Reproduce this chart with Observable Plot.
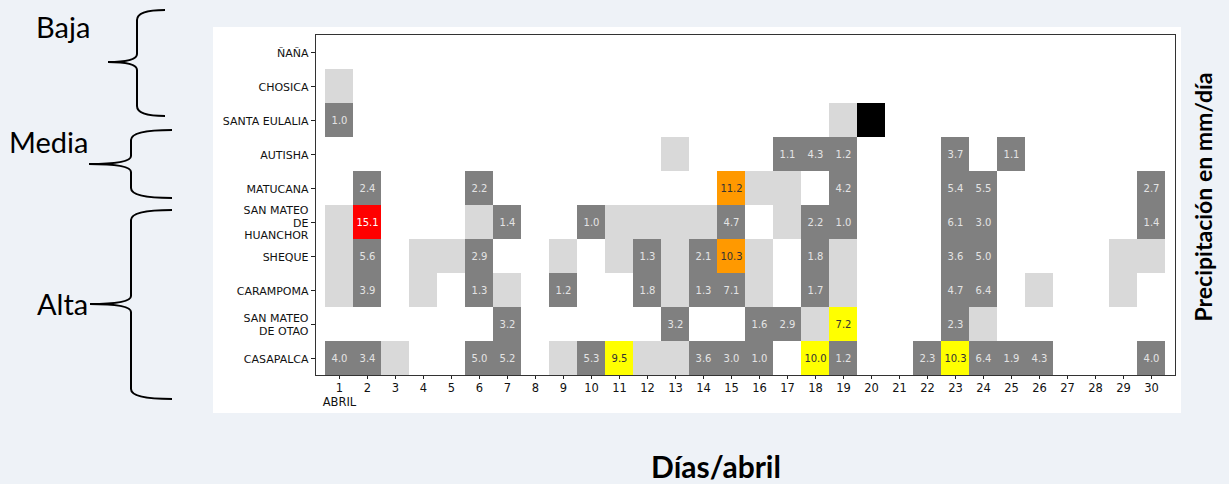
<!DOCTYPE html>
<html>
<head>
<meta charset="utf-8">
<script src="https://cdn.jsdelivr.net/npm/d3@7"></script>
<script src="https://cdn.jsdelivr.net/npm/@observablehq/plot@0.6"></script>
<style>
  html, body { margin: 0; padding: 0; background: #eef2f7; }
  #wrap { position: relative; width: 1229px; height: 484px; overflow: hidden; }
  #paper { position: absolute; left: 213px; top: 27px; width: 968px; height: 386px; background: #fff; }
  #chart { position: absolute; left: 0; top: 0; }
  #deco { position: absolute; left: 0; top: 0; }
  #xtitle { position: absolute; left: 0; width: 1432px; top: 448px; text-align: center;
            font-family: Lato, "Open Sans", sans-serif; font-weight: 700; font-size: 30px; color: #000; }
  #ytitle { position: absolute; left: 1203px; top: 197px; transform: translate(-50%, -50%) rotate(-90deg);
            white-space: nowrap; font-family: Lato, "Open Sans", sans-serif; font-weight: 700; font-size: 23px; color: #000; }
</style>
</head>
<body>
<div id="wrap">
  <div id="paper"></div>
  <div id="chart"></div>
  <svg id="deco" width="1229" height="484"></svg>
  <div id="xtitle">Días/abril</div>
  <div id="ytitle">Precipitación en mm/día</div>
</div>
<script>
// ---- data ----
const stations = ["ÑAÑA", "CHOSICA", "SANTA EULALIA", "AUTISHA", "MATUCANA",
  "SAN MATEO DE HUANCHOR", "SHEQUE", "CARAMPOMA", "SAN MATEO DE OTAO", "CASAPALCA"];
const stationLabels = ["ÑAÑA", "CHOSICA", "SANTA EULALIA", "AUTISHA", "MATUCANA",
  "SAN MATEO\nDE\nHUANCHOR", "SHEQUE", "CARAMPOMA", "SAN MATEO\nDE OTAO", "CASAPALCA"];
const days = [1,2,3,4,5,6,7,8,9,10,11,12,13,14,15,16,17,18,19,20,21,22,23,24,25,26,27,28,29,30];

// daily precipitation (mm/día); 0 = sin lluvia, 0.5 = traza (<1 mm), null = sin dato
const rainNana =        [0,0,0,0,0,0,0,0,0,0, 0,0,0,0,0,0,0,0,0,0, 0,0,0,0,0,0,0,0,0,0];
const rainChosica =     [0.5,0,0,0,0,0,0,0,0,0, 0,0,0,0,0,0,0,0,0,0, 0,0,0,0,0,0,0,0,0,0];
const rainSantaEulalia =[1.0,0,0,0,0,0,0,0,0,0, 0,0,0,0,0,0,0,0,0.5,null, 0,0,0,0,0,0,0,0,0,0];
const rainAutisha =     [0,0,0,0,0,0,0,0,0,0, 0,0,0.5,0,0,0,1.1,4.3,1.2,0, 0,0,3.7,0,1.1,0,0,0,0,0];
const rainMatucana =    [0,2.4,0,0,0,2.2,0,0,0,0, 0,0,0,0,11.2,0.5,0.5,0,4.2,0, 0,0,5.4,5.5,0,0,0,0,0,2.7];
const rainHuanchor =    [0.5,15.1,0,0,0,0.5,1.4,0,0,1.0, 0.5,0.5,0.5,0.5,4.7,0,0.5,2.2,1.0,0, 0,0,6.1,3.0,0,0,0,0,0,1.4];
const rainSheque =      [0.5,5.6,0,0.5,0.5,2.9,0,0,0.5,0, 0.5,1.3,0.5,2.1,10.3,0.5,0,1.8,0.5,0, 0,0,3.6,5.0,0,0,0,0,0.5,0.5];
const rainCarampoma =   [0.5,3.9,0,0.5,0,1.3,0.5,0,1.2,0, 0,1.8,0.5,1.3,7.1,0.5,0,1.7,0.5,0, 0,0,4.7,6.4,0,0.5,0,0,0.5,0];
const rainOtao =        [0,0,0,0,0,0,3.2,0,0,0, 0,0,3.2,0,0,1.6,2.9,0.5,7.2,0, 0,0,2.3,0.5,0,0,0,0,0,0];
const rainCasapalca =   [4.0,3.4,0.5,0,0,5.0,5.2,0,0.5,5.3, 9.5,0.5,0.5,3.6,3.0,1.0,0,10.0,1.2,0, 0,2.3,10.3,6.4,1.9,4.3,0,0,0,4.0];
const rainSeries = [rainNana, rainChosica, rainSantaEulalia, rainAutisha, rainMatucana,
  rainHuanchor, rainSheque, rainCarampoma, rainOtao, rainCasapalca];

// alert levels for highlighted cells: [station, day, level]
const alerts = [
  ["SAN MATEO DE HUANCHOR", 2, "roja"],
  ["MATUCANA", 15, "naranja"],
  ["SHEQUE", 15, "naranja"],
  ["SAN MATEO DE OTAO", 19, "amarilla"],
  ["CASAPALCA", 11, "amarilla"],
  ["CASAPALCA", 18, "amarilla"],
  ["CASAPALCA", 23, "amarilla"]
];

const categories = ["traza", "lluvia", "amarilla", "naranja", "roja", "sin dato"];
const categoryColors = ["#d9d9d9", "#808080", "#ffff00", "#ff9900", "#ff0000", "#000000"];
const labelColors = {lluvia: "#e4e4e4", amarilla: "#333333", naranja: "#333333", roja: "#ffffff"};

// ---- build table ----
const cells = [];
stations.forEach((s, i) => {
  rainSeries[i].forEach((v, j) => {
    const day = days[j];
    const alert = alerts.find(a => a[0] === s && a[1] === day);
    let cat = null;
    if (v === null) cat = "sin dato";
    else if (alert) cat = alert[2];
    else if (v >= 1) cat = "lluvia";
    else if (v > 0) cat = "traza";
    if (cat) cells.push({station: s, day, value: v, cat});
  });
});
const labeled = cells.filter(d => d.value !== null && d.value >= 1);

const chart = Plot.plot({
  width: 1229,
  height: 484,
  marginLeft: 315,
  marginRight: 54,
  marginTop: 34,
  marginBottom: 109,
  style: {background: "transparent", fontFamily: "DejaVu Sans", fontSize: "11px", color: "#111"},
  x: {type: "band", domain: days, padding: 0, axis: null, label: null},
  y: {type: "band", domain: stations, padding: 0, axis: null, label: null},
  color: {type: "ordinal", domain: categories, range: categoryColors},
  marks: [
    Plot.cell(cells, {x: "day", y: "station", fill: "cat"}),
    Plot.text(labeled, {x: "day", y: "station", text: d => d.value.toFixed(1),
      fill: d => labelColors[d.cat], fontSize: 10}),
    Plot.axisX({ticks: days, tickFormat: d => d === 1 ? "1\nABRIL" : String(d),
      tickSize: 4, tickPadding: 3, fontSize: 11.5, lineHeight: 1.2, label: null, stroke: "#222"}),
    Plot.axisY({ticks: stations, tickFormat: s => stationLabels[stations.indexOf(s)],
      tickSize: 4, tickPadding: 3, fontSize: 11, lineHeight: 1.15, label: null, stroke: "#222"}),
    Plot.frame({stroke: "#333"})
  ]
});
document.getElementById("chart").appendChild(chart);

// ---- brace annotations ----
const ns = "http://www.w3.org/2000/svg";
const deco = document.getElementById("deco");
const braces = [
  {label: "Baja", tx: 36, ty: 38, top: 10, bot: 116, mid: 62, vx: 137, tip: 108, end: 165},
  {label: "Media", tx: 9, ty: 153, top: 130, bot: 198, mid: 164, vx: 131, tip: 89, end: 172},
  {label: "Alta", tx: 37, ty: 315, top: 210, bot: 399, mid: 304, vx: 131, tip: 90, end: 172}
];
braces.forEach(b => {
  const p = document.createElementNS(ns, "path");
  const r = 10;
  p.setAttribute("d",
    `M${b.end},${b.top} Q${b.vx},${b.top} ${b.vx},${b.top + r} L${b.vx},${b.mid - 8} ` +
    `Q${b.vx},${b.mid} ${b.tip},${b.mid} Q${b.vx},${b.mid} ${b.vx},${b.mid + 8} ` +
    `L${b.vx},${b.bot - r} Q${b.vx},${b.bot} ${b.end},${b.bot}`);
  p.setAttribute("fill", "none");
  p.setAttribute("stroke", "#000");
  p.setAttribute("stroke-width", "2");
  deco.appendChild(p);
  const t = document.createElementNS(ns, "text");
  t.setAttribute("x", b.tx);
  t.setAttribute("y", b.ty);
  t.setAttribute("font-family", "Lato, 'Open Sans', sans-serif");
  t.setAttribute("font-size", "29");
  t.setAttribute("fill", "#000");
  t.textContent = b.label;
  deco.appendChild(t);
});
</script>
</body>
</html>
